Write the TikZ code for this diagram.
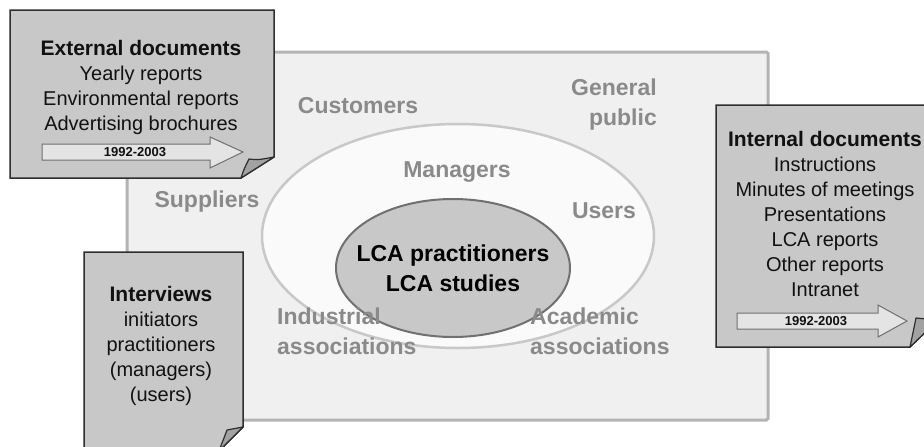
\documentclass[tikz,border=0pt]{standalone}
\usepackage{fontspec}
\setmainfont{Liberation Sans}
\definecolor{panel}{HTML}{F0F0F0}
\definecolor{paneledge}{HTML}{B4B4B4}
\definecolor{ringfill}{HTML}{FAFAFA}
\definecolor{ringedge}{HTML}{C8C8C8}
\definecolor{corefill}{HTML}{C8C8C8}
\definecolor{coreedge}{HTML}{707070}
\definecolor{labelgray}{HTML}{8A8A8A}
\definecolor{docgray}{HTML}{C8C8C8}
\definecolor{docedge}{HTML}{2E2E2E}
\definecolor{flapgray}{HTML}{A2A2A2}
\definecolor{arrowfill}{HTML}{E4E4E4}
\definecolor{arrowedge}{HTML}{707070}
\definecolor{ink}{HTML}{111111}
\begin{document}
\begin{tikzpicture}[x=1pt,y=-1pt,
  lbl/.style={font=\fontsize{23}{30}\selectfont\bfseries, text=labelgray, inner sep=0pt},
  core/.style={font=\fontsize{23}{30}\selectfont\bfseries, text=black, inner sep=0pt, align=center},
  doc/.style={fill=docgray, draw=docedge, line width=1.5pt, line join=miter},
  flap/.style={fill=flapgray, draw=docedge, line width=1.2pt, line join=round},
  doctext/.style={font=\fontsize{20}{25}\selectfont, text=ink, align=center, inner sep=0pt, anchor=north},
  period/.style={fill=arrowfill, draw=arrowedge, line width=1pt, line join=miter},
  periodtext/.style={font=\fontsize{13}{15}\selectfont\bfseries, text=ink, inner sep=0pt}]
\useasboundingbox (0,0) rectangle (924,447);
\clip (0,0) rectangle (924,447);

% stakeholder field
\draw[fill=panel, draw=paneledge, line width=3pt, rounded corners=1.5pt]
  (127,52) rectangle (768,420);
\draw[fill=ringfill, draw=ringedge, line width=2.5pt]
  (458,236) ellipse [x radius=196pt, y radius=112pt];
\draw[fill=corefill, draw=coreedge, line width=2pt]
  (453,268) ellipse [x radius=117pt, y radius=69pt];

% groups around the LCA work
\node[lbl, anchor=base] (customers) at (358,113) {Customers};
\node[lbl, anchor=north east, align=right] (public) at (657,79) {General\\public};
\node[lbl, anchor=base] (suppliers) at (207,207) {Suppliers};
\node[lbl, anchor=base] (managers) at (457,177) {Managers};
\node[lbl, anchor=base] (users) at (604,218) {Users};
\node[core, anchor=north] (lca) at (453,245) {LCA practitioners\\LCA studies};
\node[lbl, anchor=north west, align=left] (industrial) at (277,307.5) {Industrial\\associations};
\node[lbl, anchor=north west, align=left] (academic) at (530,307.5) {Academic\\associations};

% external documents sheet
\draw[doc] (10,10) -- (274,10) -- (274,157) -- (241,178) -- (10,178) -- cycle;
\draw[flap] (241,178) .. controls (244,169) .. (249,159) .. controls (258,160) .. (274,157) -- cycle;
\node[doctext] (extdocs) at (141,40)
  {{\fontsize{21}{25}\selectfont\bfseries External documents}\\Yearly reports\\Environmental reports\\Advertising brochures};
\draw[period] (42,144) -- (210,144) -- (210,137) -- (243,152) -- (210,168) -- (210,160) -- (42,160) -- cycle;
\node[periodtext] (extperiod) at (135,152) {1992-2003};

% internal documents sheet
\draw[doc] (716,105) -- (938,105) -- (938,320) -- (910,347) -- (716,347) -- cycle;
\draw[flap] (910,347) .. controls (913,333) .. (916,318) .. controls (926,319) .. (938,320) -- cycle;
\node[doctext] (intdocs) at (825,131)
  {{\fontsize{21}{25}\selectfont\bfseries Internal documents}\\Instructions\\Minutes of meetings\\Presentations\\LCA reports\\Other reports\\Intranet};
\draw[period] (737,313) -- (878,313) -- (878,305) -- (907,321) -- (878,337) -- (878,329) -- (737,329) -- cycle;
\node[periodtext] (intperiod) at (816,321) {1992-2003};

% interviews sheet
\draw[doc] (84,252) -- (243,252) -- (243,427) -- (218,452) -- (84,452) -- cycle;
\draw[flap] (243,427) .. controls (235,428) .. (227,430) .. controls (223,440) .. (219,451) -- cycle;
\node[doctext] (interviews) at (161,286)
  {{\fontsize{21}{25}\selectfont\bfseries Interviews}\\initiators\\practitioners\\(managers)\\(users)};
\end{tikzpicture}
\end{document}
